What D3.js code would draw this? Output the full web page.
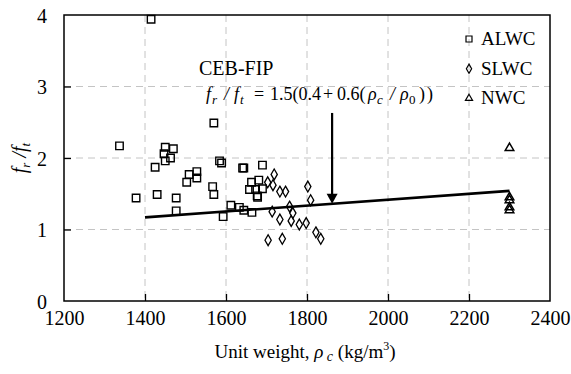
<!DOCTYPE html>
<html><head><meta charset="utf-8">
<script src="https://cdn.jsdelivr.net/npm/d3@7"></script>
<style>
@font-face{font-family:"ChartSerif";src:local("Liberation Serif"),local("LiberationSerif"),local("Times New Roman"),local("Tinos");font-style:normal;font-weight:400;}
@font-face{font-family:"ChartSerif";src:local("Liberation Serif Italic"),local("LiberationSerif-Italic"),local("Times New Roman Italic"),local("Tinos Italic");font-style:italic;font-weight:400;}
body{margin:0;}
</style>
</head>
<body><svg id="c" width="571" height="374"></svg>
<script>
const xTicks = [1200,1400,1600,1800,2000,2200,2400];
const yTicks = [0,1,2,3,4];
const alwcX = [1337,1415,1378,1425,1430,1450,1470,1447,1463,1450,1477,1477,1509,1503,1528,1528,1567,1570,1570,1584,1589,1593,1612,1633,1641,1644,1644,1664,1663,1681,1658,1673,1690,1677,1678,1690];
const alwcY = [2.17,3.94,1.44,1.87,1.49,2.15,2.13,2.06,2.00,1.96,1.44,1.26,1.77,1.66,1.81,1.72,1.60,1.49,2.49,1.96,1.93,1.18,1.34,1.31,1.86,1.86,1.27,1.24,1.66,1.69,1.56,1.56,1.57,1.47,1.45,1.90];
const slwcX = [1719,1703,1716,1733,1747,1802,1809,1757,1765,1714,1733,1761,1781,1798,1822,1834,1704,1739];
const slwcY = [1.77,1.66,1.62,1.53,1.53,1.60,1.41,1.32,1.23,1.25,1.14,1.12,1.07,1.09,0.96,0.87,0.85,0.87];
const nwcX = [2300,2300,2300,2300,2300];
const nwcY = [2.14,1.45,1.41,1.31,1.27];
const cebX = [1400,2300];
const cebY = [1.17,1.54];
const arrowX = 1862, arrowTop = 2.63, arrowTip = 1.36;
const legendLabels = ["ALWC","SLWC","NWC"];

const FONT = "'Liberation Serif', ChartSerif, 'Times New Roman', monospace";
const svg = d3.select("#c");
const L=64,R=550,T=15,B=301;
const x = d3.scaleLinear().domain([1200,2400]).range([L,R]);
const y = d3.scaleLinear().domain([0,4]).range([B,T]);
function setF(s){return s.attr("font-family",FONT);}
function txt(sel){return setF(sel.append("text"));}

// grid
const g = svg.append("g");
g.selectAll(".vg").data(xTicks.slice(1,-1)).enter().append("line")
 .attr("x1",d=>x(d)).attr("x2",d=>x(d)).attr("y1",T).attr("y2",B)
 .attr("stroke","#c4c4c4").attr("stroke-dasharray","7,5");
g.selectAll(".hg").data(yTicks.slice(1,-1)).enter().append("line")
 .attr("y1",d=>y(d)).attr("y2",d=>y(d)).attr("x1",L).attr("x2",R)
 .attr("stroke","#c4c4c4").attr("stroke-dasharray","7,5");

// axes with inner ticks
const xa = svg.append("g").attr("transform",`translate(0,${B})`)
 .call(d3.axisBottom(x).tickValues(xTicks).tickSizeInner(-7).tickSizeOuter(0).tickPadding(10).tickFormat(d3.format("d")));
const ya = svg.append("g").attr("transform",`translate(${L},0)`)
 .call(d3.axisLeft(y).tickValues(yTicks).tickSizeInner(-7).tickSizeOuter(0).tickPadding(17).tickFormat(d3.format("d")));
[xa,ya].forEach(a=>{setF(a).attr("font-size",20);a.select(".domain").remove();a.selectAll("line").attr("stroke","#000").attr("stroke-width",1.3);
 setF(a.selectAll("text")).attr("fill","#000").attr("font-size",20);});
xa.selectAll(".tick").filter(d=>d===1200||d===2400).select("line").remove();
ya.selectAll(".tick").filter(d=>d===0||d===4).select("line").remove();
ya.selectAll("text").attr("dy","0.35em");

// frame
svg.append("rect").attr("x",L).attr("y",T).attr("width",R-L).attr("height",B-T)
 .attr("fill","none").attr("stroke","#000").attr("stroke-width",1.5);

// CEB line
svg.append("path").datum(cebX.map((v,i)=>[v,cebY[i]]))
 .attr("d",d3.line().x(d=>x(d[0])).y(d=>y(d[1])))
 .attr("stroke","#000").attr("stroke-width",2.6).attr("fill","none");

// arrow
svg.append("line").attr("x1",x(arrowX)).attr("x2",x(arrowX)).attr("y1",y(arrowTop)).attr("y2",y(arrowTip)-8)
 .attr("stroke","#000").attr("stroke-width",2.2);
svg.append("path").attr("d",`M${x(arrowX)-5.5},${y(arrowTip)-10}L${x(arrowX)+5.5},${y(arrowTip)-10}L${x(arrowX)},${y(arrowTip)}Z`).attr("fill","#000");

// markers
const sq = d3.symbol().type(d3.symbolSquare).size(56);
const di = d3.symbol().type(d3.symbolDiamond).size(34);
const tr = d3.symbol().type(d3.symbolTriangle).size(32);
function pts(xs,ys,sym,sw){
 svg.append("g").selectAll("path").data(xs.map((v,i)=>[v,ys[i]])).enter().append("path")
  .attr("d",sym).attr("transform",d=>`translate(${x(d[0])},${y(d[1])})`)
  .attr("fill","none").attr("stroke","#000").attr("stroke-width",sw);
}
pts(alwcX,alwcY,sq,1.4);
pts(slwcX,slwcY,di,1.3);
pts(nwcX,nwcY,tr,1.5);

// legend
const syms=[d3.symbol().type(d3.symbolSquare).size(36),d3.symbol().type(d3.symbolDiamond).size(24),d3.symbol().type(d3.symbolTriangle).size(22)];
legendLabels.forEach((t,i)=>{
 const cy=39+i*29.7;
 svg.append("path").attr("d",syms[i]).attr("transform",`translate(469,${cy})`).attr("fill","none").attr("stroke","#000").attr("stroke-width",1.2);
 txt(svg).attr("x",481).attr("y",cy+6).attr("font-size",19).text(t);
});

// annotations
txt(svg).attr("x",199).attr("y",75).attr("font-size",20).text("CEB-FIP");
const eq = txt(svg).attr("y",100).attr("font-size",18);
function ts(t,xp,o={}){const s=eq.append("tspan").text(t).attr("x",xp).attr("y",100+(o.sub?4:0));if(o.it)s.attr("font-style","italic");if(o.sub)s.attr("font-size",13);if(o.ls)s.attr("letter-spacing",o.ls);return s;}
ts("f",206,{it:1});ts("r",212,{it:1,sub:1});ts("/",224,{it:1});ts("f",234,{it:1});ts("t",240,{it:1,sub:1});
ts("=",254);ts("1.5(0.4",270);ts("+",323);ts("0.6(",337);ts("ρ",368,{it:1});ts("c",377,{it:1,sub:1});
ts("/",390,{it:1});ts("ρ",400,{it:1});ts("0",409,{sub:1});ts("))",419,{ls:2});

// axis titles
const xt = txt(svg).attr("x",305).attr("y",358).attr("font-size",19).attr("text-anchor","middle");
xt.append("tspan").text("Unit weight,  ");
xt.append("tspan").text("ρ").attr("font-style","italic");
xt.append("tspan").text(" c").attr("font-style","italic").attr("font-size",14).attr("dy",3);
xt.append("tspan").text("  (kg/m").attr("dy",-3);
xt.append("tspan").text("3").attr("font-size",12).attr("dy",-8);
xt.append("tspan").text(")").attr("dy",8);

const yt = txt(svg).attr("transform","translate(26,158) rotate(-90)").attr("text-anchor","middle").attr("font-size",20).attr("font-style","italic");
yt.append("tspan").text("f");
yt.append("tspan").text("r").attr("font-size",13).attr("dy",4);
yt.append("tspan").text(" /").attr("dy",-4);
yt.append("tspan").text("f");
yt.append("tspan").text("t").attr("font-size",13).attr("dy",4);
</script></body></html>
